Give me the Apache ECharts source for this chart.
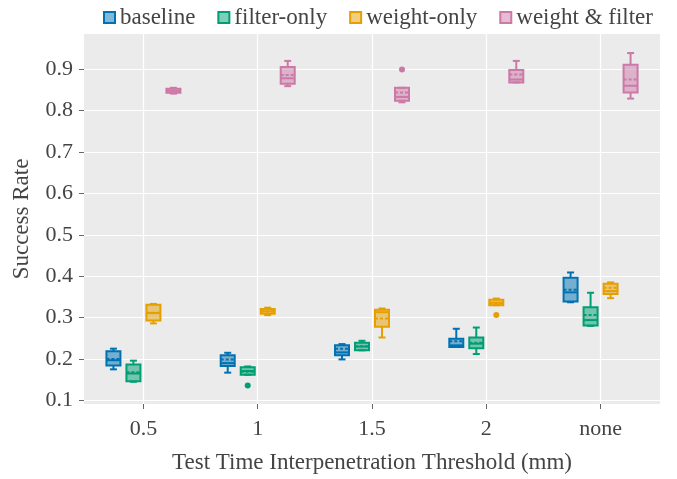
<!DOCTYPE html>
<html>
<head>
<meta charset="utf-8">
<script src="https://cdn.jsdelivr.net/npm/echarts@6/dist/echarts.min.js"></script>
<style>html,body{margin:0;padding:0;background:#fff}#chart{width:677px;height:479px}</style>
</head>
<body>
<div id="chart"></div>
<script>
// ---- data ----
const categories = ['0.5', '1', '1.5', '2', 'none'];
const yTicks = [0.1, 0.2, 0.3, 0.4, 0.5, 0.6, 0.7, 0.8, 0.9];
const seriesNames = ['baseline', 'filter-only', 'weight-only', 'weight & filter'];

// [min, q1, median, q3, max] per category
const baselineStats = [
  [0.175, 0.184, 0.197, 0.219, 0.225],
  [0.167, 0.183, 0.190, 0.209, 0.215],
  [0.199, 0.209, 0.216, 0.233, 0.236],
  [0.229, 0.229, 0.233, 0.249, 0.273],
  [0.337, 0.339, 0.361, 0.396, 0.409]
];
const baselineMean = [0.200, 0.199, 0.225, 0.243, 0.367];
const baselineOutliers = [];

const filterOnlyStats = [
  [0.145, 0.146, 0.165, 0.187, 0.196],
  [0.162, 0.162, 0.171, 0.180, 0.182],
  [0.221, 0.221, 0.230, 0.239, 0.244],
  [0.212, 0.226, 0.237, 0.252, 0.276],
  [0.280, 0.281, 0.294, 0.325, 0.360]
];
const filterOnlyMean = [0.168, 0.169, 0.231, 0.239, 0.306];
const filterOnlyOutliers = [[1, 0.136]];

const weightOnlyStats = [
  [0.286, 0.293, 0.311, 0.331, 0.333],
  [0.306, 0.309, 0.315, 0.321, 0.324],
  [0.252, 0.278, 0.313, 0.319, 0.322],
  [0.330, 0.330, 0.336, 0.343, 0.346],
  [0.347, 0.357, 0.364, 0.382, 0.385]
];
const weightOnlyMean = [0.312, 0.315, 0.298, 0.335, 0.372];
const weightOnlyOutliers = [[3, 0.306]];

const weightFilterStats = [
  [0.841, 0.843, 0.848, 0.853, 0.855],
  [0.859, 0.865, 0.878, 0.905, 0.920],
  [0.820, 0.824, 0.833, 0.855, 0.855],
  [0.868, 0.868, 0.875, 0.898, 0.920],
  [0.829, 0.844, 0.860, 0.911, 0.939]
];
const weightFilterMean = [0.848, 0.886, 0.844, 0.887, 0.875];
const weightFilterOutliers = [[2, 0.899]];

// ---- styling ----
const colors = ['#0072B2', '#009E73', '#E69F00', '#CC79A7'];
const fills = ['rgba(0,114,178,0.5)', 'rgba(0,158,115,0.5)', 'rgba(230,159,0,0.5)', 'rgba(204,121,167,0.5)'];
const groupOffsets = [-0.2625, -0.0875, 0.0875, 0.2625]; // fraction of category spacing
const FONT = '"Liberation Serif", "DejaVu Serif", serif';
const TXT = '#444';

const allStats = [baselineStats, filterOnlyStats, weightOnlyStats, weightFilterStats];
const allMeans = [baselineMean, filterOnlyMean, weightOnlyMean, weightFilterMean];
const allOutliers = [baselineOutliers, filterOnlyOutliers, weightOnlyOutliers, weightFilterOutliers];

function boxRender(k) {
  return function (params, api) {
    const i = api.value(0);
    const unit = api.size([1, 0])[0];
    const cx = api.coord([i, 0])[0] + groupOffsets[k] * unit;
    const Y = v => api.coord([i, v])[1];
    const mn = api.value(1), q1 = api.value(2), md = api.value(3), q3 = api.value(4), mx = api.value(5), mean = api.value(6);
    const hw = 7, cw = 3.5;
    const ls = { stroke: colors[k], lineWidth: 2, fill: null };
    return {
      type: 'group',
      children: [
        { type: 'line', shape: { x1: cx, y1: Y(mx), x2: cx, y2: Y(q3) }, style: ls },
        { type: 'line', shape: { x1: cx, y1: Y(q1), x2: cx, y2: Y(mn) }, style: ls },
        { type: 'line', shape: { x1: cx - cw, y1: Y(mx), x2: cx + cw, y2: Y(mx) }, style: ls },
        { type: 'line', shape: { x1: cx - cw, y1: Y(mn), x2: cx + cw, y2: Y(mn) }, style: ls },
        { type: 'rect', shape: { x: cx - hw, y: Y(q3), width: 2 * hw, height: Math.max(Y(q1) - Y(q3), 1) },
          style: { fill: fills[k], stroke: colors[k], lineWidth: 2 } },
        { type: 'line', shape: { x1: cx - hw, y1: Y(md), x2: cx + hw, y2: Y(md) }, style: ls },
        { type: 'line', shape: { x1: cx - hw, y1: Y(mean), x2: cx + hw, y2: Y(mean) },
          style: { stroke: colors[k], lineWidth: 2, fill: null, lineDash: [3, 2] } }
      ]
    };
  };
}
function outlierRender(k) {
  return function (params, api) {
    const i = api.value(0);
    const unit = api.size([1, 0])[0];
    const p = api.coord([i, api.value(1)]);
    return { type: 'circle', shape: { cx: p[0] + groupOffsets[k] * unit, cy: p[1], r: 3 },
      style: { fill: colors[k] } };
  };
}

const series = [];
seriesNames.forEach((name, k) => {
  series.push({
    name, type: 'custom', renderItem: boxRender(k),
    itemStyle: { color: fills[k], borderColor: colors[k] },
    encode: { x: 0, y: [1, 2, 3, 4, 5, 6] },
    data: allStats[k].map((s, i) => [i, ...s, allMeans[k][i]])
  });
  series.push({
    name, type: 'custom', renderItem: outlierRender(k),
    itemStyle: { color: fills[k], borderColor: colors[k] },
    encode: { x: 0, y: 1 },
    data: allOutliers[k]
  });
});

const chart = echarts.init(document.getElementById('chart'), null, { renderer: 'canvas' });
chart.setOption({
  backgroundColor: '#fff',
  animation: false,
  textStyle: { fontFamily: FONT, color: TXT },
  legend: {
    top: 1, left: 98, itemWidth: 11, itemHeight: 11, itemGap: 22, icon: 'rect',
    textStyle: { fontFamily: FONT, fontSize: 23, color: TXT },
    data: seriesNames.map((n, k) => ({ name: n, itemStyle: { color: fills[k], borderColor: colors[k], borderWidth: 2 } }))
  },
  grid: { left: 84, right: 17, top: 34, bottom: 75, show: true, backgroundColor: '#EBEBEB', borderWidth: 0 },
  xAxis: {
    type: 'value', min: -0.52, max: 4.52,
    name: 'Test Time Interpenetration Threshold (mm)', nameLocation: 'middle', nameGap: 47,
    nameTextStyle: { fontFamily: FONT, fontSize: 23, color: TXT },
    axisLine: { show: false, onZero: false },
    axisTick: { show: true, inside: false, length: 5, customValues: [0, 1, 2, 3, 4], lineStyle: { color: '#666' } },
    axisLabel: { customValues: [0, 1, 2, 3, 4], formatter: v => categories[Math.round(v)], margin: 14,
      fontFamily: FONT, fontSize: 22, color: TXT },
    splitLine: { show: true, lineStyle: { color: '#fff', width: 1.2 } }
  },
  yAxis: {
    type: 'value', min: 0.0913, max: 0.985,
    name: 'Success Rate', nameLocation: 'middle', nameGap: 51,
    nameTextStyle: { fontFamily: FONT, fontSize: 23, color: TXT },
    axisLine: { show: false, onZero: false },
    axisTick: { show: true, inside: false, length: 5, customValues: yTicks, lineStyle: { color: '#666' } },
    axisLabel: { customValues: yTicks, formatter: v => (Math.round(v * 10) / 10).toString(), margin: 11,
      fontFamily: FONT, fontSize: 22, color: TXT },
    splitLine: { show: true, lineStyle: { color: '#fff', width: 1.2 } }
  },
  series
});
</script>
</body>
</html>
